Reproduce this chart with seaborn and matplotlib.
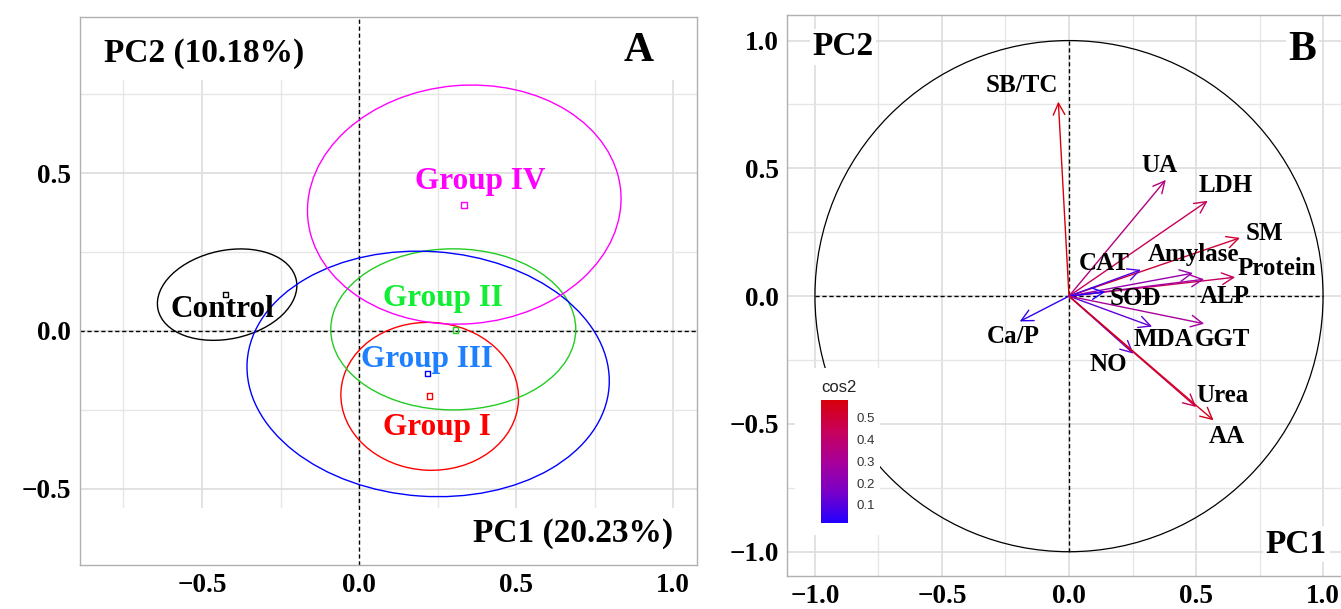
import numpy as np
import pandas as pd
import matplotlib
matplotlib.use("Agg")
import matplotlib.pyplot as plt
import seaborn as sns
from matplotlib.patches import Ellipse, Circle, Rectangle
from matplotlib.colors import LinearSegmentedColormap, Normalize
from matplotlib.ticker import MultipleLocator

# ---- panel A data: group means and confidence ellipses ----
groups = ["Control", "Group I", "Group II", "Group III", "Group IV"]
mean_x = [-0.424, 0.225, 0.306, 0.217, 0.334]
mean_y = [0.116, -0.206, 0.003, -0.134, 0.399]
ell_cx = [-0.42, 0.225, 0.30, 0.22, 0.335]
ell_cy = [0.115, -0.207, 0.005, -0.136, 0.40]
ell_w = [0.45, 0.566, 0.78, 1.155, 1.0]
ell_h = [0.28, 0.468, 0.51, 0.775, 0.755]
ell_angle = [12, -3, 0, -4, 5]
label_x = [-0.435, 0.248, 0.266, 0.217, 0.386]
label_y = [0.067, -0.305, 0.104, -0.089, 0.472]
line_colors = ["black", "#FF0000", "#22CC22", "#0000FF", "#FF00FF"]
text_colors = ["black", "#FF0000", "#11EE33", "#1E80FF", "#FF00FF"]

# ---- panel B data: variable loadings on PC1/PC2 ----
variables = ["SB/TC", "UA", "LDH", "SM", "Amylase", "CAT", "Protein", "ALP",
             "SOD", "Ca/P", "MDA", "GGT", "NO", "Urea", "AA"]
pc1 = [-0.042, 0.381, 0.546, 0.673, 0.488, 0.283, 0.654, 0.532,
       0.142, -0.194, 0.327, 0.532, 0.254, 0.501, 0.569]
pc2 = [0.761, 0.455, 0.373, 0.228, 0.090, 0.103, 0.074, 0.066,
       0.016, -0.099, -0.119, -0.108, -0.225, -0.434, -0.486]
var_lab_x = [-0.186, 0.355, 0.618, 0.768, 0.489, 0.139, 0.819, 0.613,
             0.260, -0.220, 0.373, 0.605, 0.155, 0.605, 0.622]
var_lab_y = [0.823, 0.510, 0.434, 0.245, 0.161, 0.126, 0.107, 0.000,
             -0.010, -0.157, -0.170, -0.170, -0.267, -0.388, -0.551]

df_means = pd.DataFrame({"group": groups, "x": mean_x, "y": mean_y})
df_vars = pd.DataFrame({"var": variables, "pc1": pc1, "pc2": pc2})
df_vars["cos2"] = df_vars["pc1"] ** 2 + df_vars["pc2"] ** 2

sns.set_theme(style="white")
plt.rcParams["font.family"] = ["Liberation Serif", "DejaVu Serif"]
plt.rcParams["axes.unicode_minus"] = True
plt.rcParams["text.color"] = "black"
plt.rcParams["xtick.color"] = "black"
plt.rcParams["ytick.color"] = "black"

fig = plt.figure(figsize=(13.41, 6.09), dpi=100)
axA = fig.add_axes([79.5 / 1341, 44 / 609, 617.5 / 1341, 548 / 609])
axB = fig.add_axes([787 / 1341, 33 / 609, 564 / 1341, 561 / 609])

grid_major = "#DDDDDD"
grid_minor = "#E6E6E6"
frame_col = "#B0B0B0"


def style_axes(ax, step_major, xpad=6):
    ax.xaxis.set_major_locator(MultipleLocator(step_major))
    ax.yaxis.set_major_locator(MultipleLocator(step_major))
    ax.xaxis.set_minor_locator(MultipleLocator(step_major / 2))
    ax.yaxis.set_minor_locator(MultipleLocator(step_major / 2))
    ax.grid(which="major", color=grid_major, lw=1.2)
    ax.grid(which="minor", color=grid_minor, lw=1.0)
    ax.set_axisbelow(True)
    for s in ax.spines.values():
        s.set_color(frame_col)
        s.set_linewidth(1.0)
    ax.tick_params(which="both", length=0, labelsize=19.5, labelcolor="black")
    ax.tick_params(axis="x", pad=xpad)
    ax.tick_params(axis="y", pad=6)
    for lab in ax.get_xticklabels() + ax.get_yticklabels():
        lab.set_fontweight("bold")
    ax.set_xlabel("")
    ax.set_ylabel("")


# ---------------- Panel A ----------------
axA.set_xlim(-0.89, 1.076)
axA.set_ylim(-0.741, 0.994)
axA.axhspan(0.795, 1.0, color="white", zorder=0.8, lw=0)
axA.axhspan(-0.8, -0.56, color="white", zorder=0.8, lw=0)
axA.axhline(0, color="black", ls=(0, (3, 2)), lw=1.0, zorder=1)
axA.axvline(0, color="black", ls=(0, (3, 2)), lw=1.0, zorder=1)

for i, g in enumerate(groups):
    axA.add_patch(Ellipse((ell_cx[i], ell_cy[i]), ell_w[i], ell_h[i],
                          angle=ell_angle[i], fill=False,
                          edgecolor=line_colors[i], lw=1.0, zorder=2))
    axA.text(label_x[i], label_y[i], g, color=text_colors[i], fontsize=22.5,
             fontweight="bold", ha="center", va="center", zorder=4)

sns.scatterplot(data=df_means, x="x", y="y", hue="group", palette=line_colors,
                marker="s", s=14, linewidth=1.0, legend=False, ax=axA, zorder=3)
for coll in axA.collections:
    coll.set_facecolor("none")
    coll.set_edgecolors(line_colors)

axA.text(-0.492, 0.878, "PC2 (10.18%)", fontsize=24, fontweight="bold",
         ha="center", va="center", zorder=5)
axA.text(0.889, 0.885, "A", fontsize=30, fontweight="bold",
         ha="center", va="center", zorder=5)
axA.text(0.682, -0.640, "PC1 (20.23%)", fontsize=24, fontweight="bold",
         ha="center", va="center", zorder=5)
style_axes(axA, 0.5)
axA.set_yticks([-0.5, 0.0, 0.5])

# ---------------- Panel B ----------------
axB.set_xlim(-1.11, 1.11)
axB.set_ylim(-1.095, 1.10)
axB.plot([-1, 1], [0, 0], color="black", ls=(0, (3, 2)), lw=1.0, zorder=1)
axB.plot([0, 0], [-1, 1], color="black", ls=(0, (3, 2)), lw=1.0, zorder=1)
axB.add_patch(Circle((0, 0), 1.0, fill=False, edgecolor="black", lw=0.9,
                     zorder=1.5))

cmap = LinearSegmentedColormap.from_list(
    "cos2", ["#2200FF", "#7A00C8", "#A8009A", "#C8005A", "#D8000C"])
vmin, vmax = 0.017, 0.58
norm = Normalize(vmin=vmin, vmax=vmax)

for _, r in df_vars.iterrows():
    axB.annotate("", xy=(r["pc1"], r["pc2"]), xytext=(0, 0),
                 arrowprops=dict(arrowstyle="->,head_length=0.7,head_width=0.35",
                                 color=cmap(norm(r["cos2"])), lw=1.0,
                                 shrinkA=0, shrinkB=0), zorder=4)
for i, v in enumerate(variables):
    axB.text(var_lab_x[i], var_lab_y[i], v, fontsize=18, fontweight="bold",
             ha="center", va="center", zorder=5)

box = dict(facecolor="white", edgecolor="none", pad=2)
axB.text(-0.890, 0.976, "PC2", fontsize=24, fontweight="bold", ha="center",
         va="center", bbox=box, zorder=5)
axB.text(0.919, 0.963, "B", fontsize=30, fontweight="bold", ha="center",
         va="center", bbox=box, zorder=5)
axB.text(0.895, -0.970, "PC1", fontsize=24, fontweight="bold", ha="center",
         va="center", bbox=box, zorder=5)
style_axes(axB, 0.5, xpad=6)
axB.xaxis.set_minor_locator(MultipleLocator(0.25))
axB.yaxis.set_minor_locator(MultipleLocator(0.25))
axB.set_xticks([-1.0, -0.5, 0.0, 0.5, 1.0])
axB.set_yticks([-1.0, -0.5, 0.0, 0.5, 1.0])
axB.spines["right"].set_visible(False)

# legend box and colorbar
axB.add_patch(Rectangle((0.014, 0.073), 0.151, 0.298, transform=axB.transAxes,
                        facecolor="white", edgecolor="none", zorder=3))
cax = axB.inset_axes([0.0603, 0.0945, 0.0479, 0.219])
sm = plt.cm.ScalarMappable(norm=norm, cmap=cmap)
cb = fig.colorbar(sm, cax=cax)
cb.outline.set_visible(False)
cb.set_ticks([0.1, 0.2, 0.3, 0.4, 0.5])
cax.tick_params(axis="y", direction="in", color="white", length=4, width=1,
                left=True, right=True, labelleft=False, labelright=True,
                labelsize=9.5, labelcolor="#333333", pad=6)
for lab in cax.get_yticklabels():
    lab.set_fontfamily(["Liberation Sans", "DejaVu Sans"])
cax.text(0.0, 1.04, "cos2", transform=cax.transAxes, fontsize=12,
         family=["Liberation Sans", "DejaVu Sans"], color="#222222",
         ha="left", va="bottom")

fig.savefig("out.png", dpi=100, facecolor="white")
